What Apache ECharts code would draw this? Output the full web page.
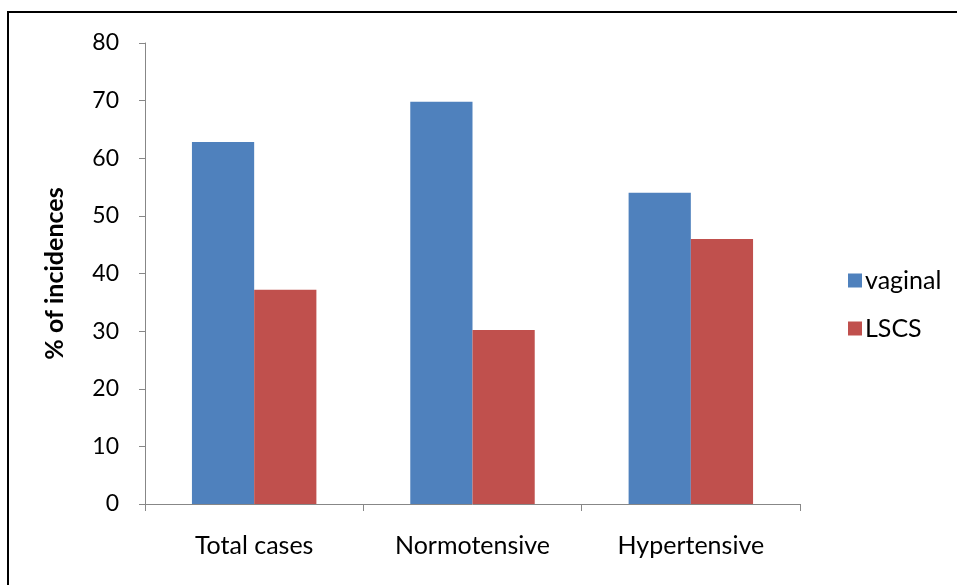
<!DOCTYPE html>
<html>
<head>
<meta charset="utf-8">
<script src="https://cdn.jsdelivr.net/npm/echarts@6/dist/echarts.min.js"></script>
<style>html,body{margin:0;padding:0;background:#fff}#c{width:957px;height:585px}</style>
</head>
<body>
<div id="c"></div>
<script>
var categories = ['Total cases', 'Normotensive', 'Hypertensive'];
var vaginal = [62.8, 69.8, 54.0];
var lscs = [37.2, 30.2, 46.0];
var yTicks = [0, 10, 20, 30, 40, 50, 60, 70, 80];

var chart = echarts.init(document.getElementById('c'));
var font = 'Lato';
chart.setOption({
  animation: false,
  backgroundColor: '#fff',
  graphic: [{
    type: 'rect', shape: {x: 8, y: 12, width: 1000, height: 700},
    style: {fill: 'none', stroke: '#000', lineWidth: 2}, silent: true
  }],
  grid: {left: 145, right: 157, top: 43, bottom: 81, containLabel: false},
  legend: {
    data: ['vaginal', 'LSCS'],
    orient: 'vertical', left: 843, top: 263,
    itemWidth: 14, itemHeight: 14, itemGap: 23, icon: 'rect',
    textStyle: {fontFamily: font, fontSize: 25, color: '#000', padding: [0, 0, 0, -2]}
  },
  xAxis: {
    type: 'category', data: categories,
    axisLine: {lineStyle: {color: '#878787', width: 1}},
    axisTick: {show: true, length: 7, lineStyle: {color: '#878787'}},
    axisLabel: {fontFamily: font, fontSize: 25, color: '#000', margin: 29}
  },
  yAxis: {
    type: 'value', min: 0, max: 80, interval: 10,
    name: '% of incidences', nameLocation: 'middle', nameGap: 78, nameRotate: 90,
    nameTextStyle: {fontFamily: font, fontSize: 25, fontWeight: 'bold', color: '#000'},
    axisLine: {show: true, lineStyle: {color: '#878787', width: 1}},
    axisTick: {show: true, length: 6, lineStyle: {color: '#878787'}},
    splitLine: {show: false},
    axisLabel: {fontFamily: font, fontSize: 23, color: '#000', margin: 26,
      formatter: function (v) { return yTicks.indexOf(v) >= 0 ? String(v) : ''; }}
  },
  series: [
    {name: 'vaginal', type: 'bar', data: vaginal, barGap: '0%', barCategoryGap: '43%',
     itemStyle: {color: '#4F81BD'}},
    {name: 'LSCS', type: 'bar', data: lscs, barGap: '0%', barCategoryGap: '43%',
     itemStyle: {color: '#C0504D'}}
  ]
});
</script>
</body>
</html>
